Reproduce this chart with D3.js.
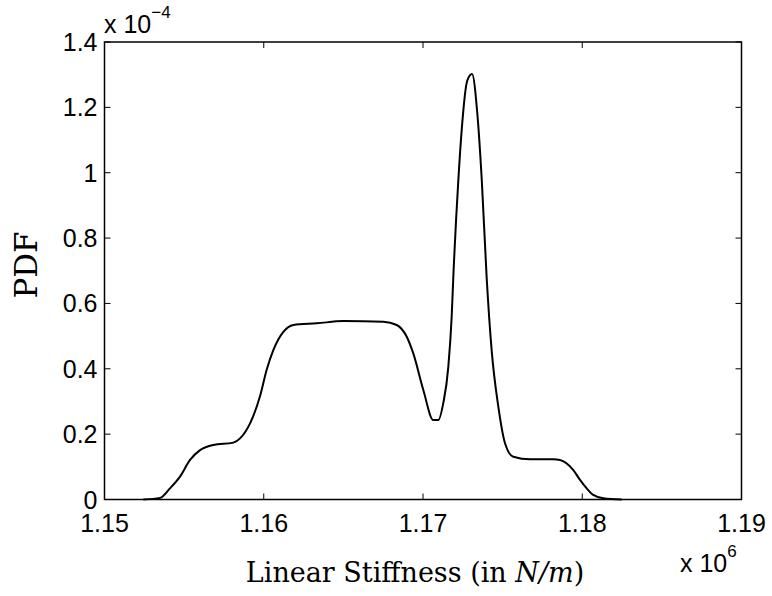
<!DOCTYPE html>
<html>
<head>
<meta charset="utf-8">
<script src="https://cdn.jsdelivr.net/npm/d3@7"></script>
<style>
  body { margin: 0; background: #fff; }
  svg text { fill: #000; }
  .tick-label { font-family: "Liberation Sans", Arial, sans-serif; font-size: 25px; }
  .axis-title { font-family: "DejaVu Serif", "Liberation Serif", serif; font-size: 27px; }
</style>
</head>
<body>
<div id="graphed"></div>
<script>
// stiffness values (x 1e6 N/m)
const stiffness = [1.15244, 1.15349, 1.15411, 1.15474, 1.15537, 1.15600, 1.15683, 1.15809, 1.15851,
  1.15914, 1.15976, 1.16018, 1.16060, 1.16123, 1.16186, 1.16333, 1.16500, 1.16751, 1.16835,
  1.16898, 1.16939, 1.17002, 1.17065, 1.17096, 1.17127, 1.17159, 1.17180, 1.17190, 1.17222,
  1.17243, 1.17278, 1.17308, 1.17341, 1.17369, 1.17400, 1.17431, 1.17473, 1.17515, 1.17567,
  1.17672, 1.17818, 1.17860, 1.17944, 1.17986, 1.18028, 1.18069, 1.18132, 1.18248];
// pdf values (x 1e-4)
const pdf = [0.000, 0.005, 0.034, 0.070, 0.121, 0.151, 0.167, 0.174, 0.187,
  0.233, 0.315, 0.396, 0.457, 0.513, 0.534, 0.539, 0.546, 0.544, 0.534,
  0.498, 0.447, 0.335, 0.243, 0.243, 0.294, 0.406, 0.559, 0.677, 0.978,
  1.131, 1.282, 1.302, 1.182, 0.978, 0.677, 0.457, 0.284, 0.172, 0.131,
  0.123, 0.123, 0.121, 0.090, 0.060, 0.034, 0.014, 0.004, 0.000];

const xTicks = [1.15, 1.16, 1.17, 1.18, 1.19];
const yTicks = [0, 0.2, 0.4, 0.6, 0.8, 1, 1.2, 1.4];

const createGraph = (data) => {
  var margin = {top: 42, right: 30.5, bottom: 96.5, left: 104.5},
      width = 772 - margin.left - margin.right,
      height = 596 - margin.top - margin.bottom;

  var x = d3.scaleLinear().domain([1.15, 1.19]).range([0, width]);
  var y = d3.scaleLinear().domain([0, 1.4]).range([height, 0]);

  var valueline = d3.line()
      .x(function(d) { return x(d.k); })
      .y(function(d) { return y(d.p); })
      .curve(d3.curveMonotoneX);

  var root = d3.select("#graphed").append("svg")
      .attr("width", 772)
      .attr("height", 596);
  var svg = root.append("g")
      .attr("transform", "translate(" + margin.left + "," + margin.top + ")");

  // ticks pointing inward, mirrored on all four sides
  var tk = 6;
  var ticks = svg.append("g").attr("stroke", "#000").attr("stroke-width", 1);
  xTicks.forEach(function(t) {
    ticks.append("line").attr("x1", x(t)).attr("x2", x(t)).attr("y1", height).attr("y2", height - tk);
    ticks.append("line").attr("x1", x(t)).attr("x2", x(t)).attr("y1", 0).attr("y2", tk);
  });
  yTicks.forEach(function(t) {
    ticks.append("line").attr("x1", 0).attr("x2", tk).attr("y1", y(t)).attr("y2", y(t));
    ticks.append("line").attr("x1", width).attr("x2", width - tk).attr("y1", y(t)).attr("y2", y(t));
  });

  // box
  svg.append("rect")
      .attr("width", width).attr("height", height)
      .attr("fill", "none").attr("stroke", "#000").attr("stroke-width", 1.5);

  // the curve
  svg.append("path")
    .data([data])
    .attr("fill", "none")
    .attr("stroke", "#000")
    .attr("stroke-width", 2)
    .attr("stroke-linejoin", "round")
    .attr("d", valueline);

  // tick labels
  svg.selectAll(".xl").data(xTicks).enter().append("text")
      .attr("class", "tick-label")
      .attr("x", function(d) { return x(d); })
      .attr("y", height + 32)
      .attr("text-anchor", "middle")
      .text(function(d) { return d3.format(".2f")(d); });
  svg.selectAll(".yl").data(yTicks).enter().append("text")
      .attr("class", "tick-label")
      .attr("x", -7)
      .attr("y", function(d) { return y(d); })
      .attr("dy", "0.36em")
      .attr("text-anchor", "end")
      .text(function(d) { return d3.format("~g")(d); });

  // exponent multipliers
  var ey = root.append("text").attr("class", "tick-label").attr("x", 104).attr("y", 33);
  ey.append("tspan").text("x 10");
  ey.append("tspan").attr("dy", -15).attr("font-size", "17px").text("\u22124");
  var ex = root.append("text").attr("class", "tick-label").attr("x", 680).attr("y", 572);
  ex.append("tspan").text("x 10");
  ex.append("tspan").attr("dy", -15).attr("font-size", "17px").text("6");

  // axis titles
  var xt = root.append("text").attr("class", "axis-title")
      .attr("x", 415).attr("y", 582).attr("text-anchor", "middle");
  xt.append("tspan").text("Linear Stiffness (in ");
  xt.append("tspan").attr("font-style", "italic").text("N/m");
  xt.append("tspan").text(")");

  root.append("text").attr("class", "axis-title")
      .attr("transform", "translate(37,265) rotate(-90)")
      .attr("text-anchor", "middle")
      .style("font-size", "31px")
      .text("PDF");
}

const data = stiffness.map(function(k, i) { return {k: k, p: pdf[i]}; });
createGraph(data);
</script>
</body>
</html>
